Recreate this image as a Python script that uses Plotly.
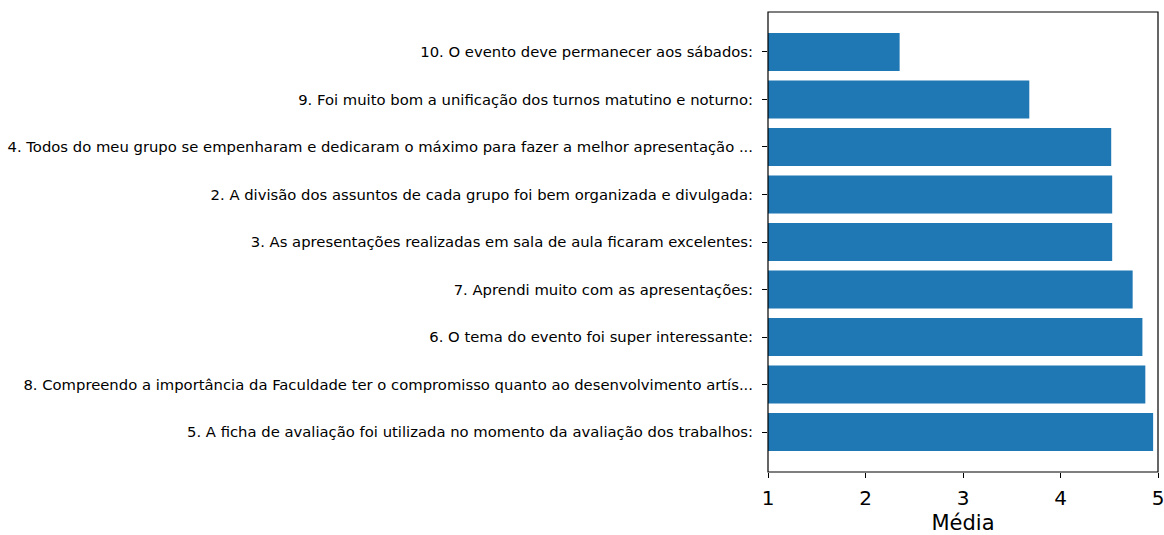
import plotly.graph_objects as go

categories = [
    "5. A ficha de avaliação foi utilizada no momento da avaliação dos trabalhos:",
    "8. Compreendo a importância da Faculdade ter o compromisso quanto ao desenvolvimento artís...",
    "6. O tema do evento foi super interessante:",
    "7. Aprendi muito com as apresentações:",
    "3. As apresentações realizadas em sala de aula ficaram excelentes:",
    "2. A divisão dos assuntos de cada grupo foi bem organizada e divulgada:",
    "4. Todos do meu grupo se empenharam e dedicaram o máximo para fazer a melhor apresentação ...",
    "9. Foi muito bom a unificação dos turnos matutino e noturno:",
    "10. O evento deve permanecer aos sábados:",
]
values = [4.95, 4.87, 4.84, 4.74, 4.53, 4.53, 4.52, 3.68, 2.35]
x_ticks = [1, 2, 3, 4, 5]

fig = go.Figure(go.Bar(
    x=values,
    y=list(range(len(categories))),
    orientation="h",
    width=0.8,
    marker=dict(color="#1f77b4", line=dict(width=0)),
))

fig.update_layout(
    width=1164, height=535,
    margin=dict(l=768, r=6, t=12, b=63, autoexpand=False),
    plot_bgcolor="white", paper_bgcolor="white",
    font=dict(family="DejaVu Sans", color="black"),
    showlegend=False,
    bargap=0.2,
    shapes=[dict(
        type="rect", xref="x domain", yref="y domain",
        x0=0, x1=1, y0=0, y1=1,
        line=dict(color="black", width=1.2), fillcolor="rgba(0,0,0,0)",
        layer="above",
    )],
)
fig.update_xaxes(
    range=[1, 5], tickvals=x_ticks, ticktext=[str(t) for t in x_ticks],
    showgrid=False, zeroline=False, showline=False,
    ticks="outside", ticklen=5, tickcolor="black", tickwidth=1.2,
    tickfont=dict(size=20), automargin=False, ticklabeloverflow="allow",
    ticklabelstandoff=3,
    title=dict(text="Média", font=dict(size=21), standoff=11),
)
fig.update_yaxes(
    range=[-0.84, len(categories) - 1 + 0.84],
    tickvals=list(range(len(categories))), ticktext=categories,
    showgrid=False, zeroline=False, showline=False,
    ticks="outside", ticklen=5, tickcolor="black", tickwidth=1.2,
    tickfont=dict(size=14.8), automargin=False, ticklabelstandoff=6,
)

fig.write_html(
    "out.html",
    config={"displayModeBar": False},
    post_script="document.body.style.margin='0';document.body.style.overflow='hidden';",
)
